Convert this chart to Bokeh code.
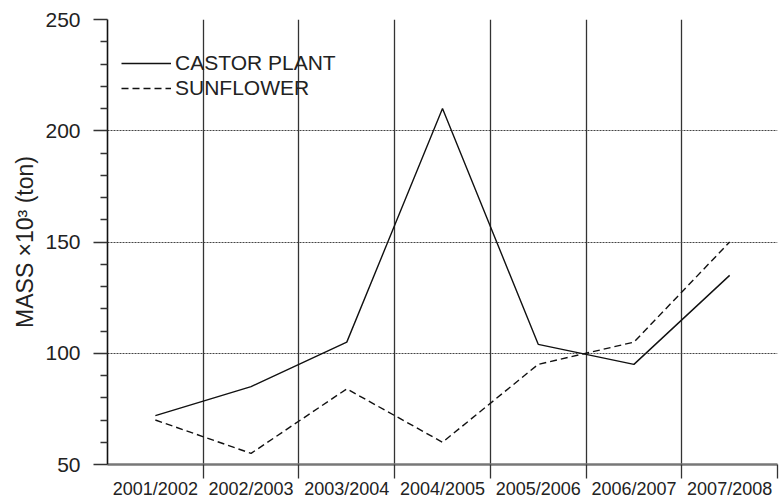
from bokeh.plotting import figure
from bokeh.models import FixedTicker, Legend, LegendItem, Range1d
from bokeh.embed import file_html
from bokeh.resources import INLINE

seasons = ["2001/2002", "2002/2003", "2003/2004", "2004/2005",
           "2005/2006", "2006/2007", "2007/2008"]
castor = [72, 85, 105, 210, 104, 95, 135]
sunflower = [70, 55, 84, 60, 95, 105, 150]
y_major = [50, 100, 150, 200, 250]
y_minor = [60, 70, 80, 90, 110, 120, 130, 140, 160, 170, 180, 190, 210, 220, 230, 240]

n = len(seasons)
xc = [i + 0.5 for i in range(n)]
bounds = [i + 1 for i in range(n)]

FONT = "Liberation Sans"

p = figure(width=780, height=501, x_range=Range1d(0, n), y_range=Range1d(50, 250),
           output_backend="svg", toolbar_location=None,
           min_border_left=107, min_border_right=3, min_border_top=19, min_border_bottom=35)
p.outline_line_color = None

# x axis
p.xaxis.ticker = FixedTicker(ticks=xc, minor_ticks=bounds)
p.xaxis.major_label_overrides = {x: s for x, s in zip(xc, seasons)}
p.xaxis.major_tick_out = 0
p.xaxis.major_tick_in = 0
p.xaxis.minor_tick_out = 14
p.xaxis.minor_tick_in = 0
p.xaxis.minor_tick_line_color = "#333333"
p.xaxis.minor_tick_line_width = 1.3
p.xaxis.axis_line_color = "#777777"
p.xaxis.axis_line_width = 2.5
p.xaxis.major_label_text_font = FONT
p.xaxis.major_label_text_font_size = "18px"
p.xaxis.major_label_text_color = "#222222"
p.xaxis.major_label_standoff = 0

p.xgrid.grid_line_color = None
p.xgrid.minor_grid_line_color = "#333333"
p.xgrid.minor_grid_line_width = 1.3

# y axis
p.yaxis.ticker = FixedTicker(ticks=y_major, minor_ticks=y_minor)
p.yaxis.major_tick_out = 14
p.yaxis.major_tick_in = 0
p.yaxis.minor_tick_out = 7
p.yaxis.minor_tick_in = 0
p.yaxis.major_tick_line_color = "#333333"
p.yaxis.minor_tick_line_color = "#333333"
p.yaxis.major_tick_line_width = 1.3
p.yaxis.minor_tick_line_width = 1.3
p.yaxis.axis_line_color = "#111111"
p.yaxis.axis_line_width = 1.6
p.yaxis.major_label_text_font = FONT
p.yaxis.major_label_text_font_size = "21px"
p.yaxis.major_label_text_color = "#222222"
p.yaxis.major_label_standoff = 13
p.yaxis.axis_label = "MASS \u00d710\u00b3 (ton)"
p.yaxis.axis_label_text_font = FONT
p.yaxis.axis_label_text_font_size = "23px"
p.yaxis.axis_label_text_font_style = "normal"
p.yaxis.axis_label_text_color = "#222222"
p.yaxis.axis_label_standoff = 4

p.ygrid.grid_line_color = "#444444"
p.ygrid.grid_line_dash = "2 1"
p.ygrid.grid_line_width = 1.2

r1 = p.line(xc, castor, line_color="#111111", line_width=1.4)
r2 = p.line(xc, sunflower, line_color="#111111", line_width=1.4, line_dash="7 4")

legend = Legend(items=[LegendItem(label="CASTOR PLANT", renderers=[r1]),
                       LegendItem(label="SUNFLOWER", renderers=[r2])],
                location=(14, 364))
legend.border_line_color = None
legend.background_fill_alpha = 0
legend.padding = 0
legend.margin = 0
legend.spacing = 1
legend.glyph_width = 50
legend.glyph_height = 20
legend.label_height = 20
legend.label_standoff = 4
legend.label_text_font = FONT
legend.label_text_font_size = "21px"
legend.label_text_color = "#222222"
p.add_layout(legend)

open("out.html", "w").write(file_html(p, INLINE))
